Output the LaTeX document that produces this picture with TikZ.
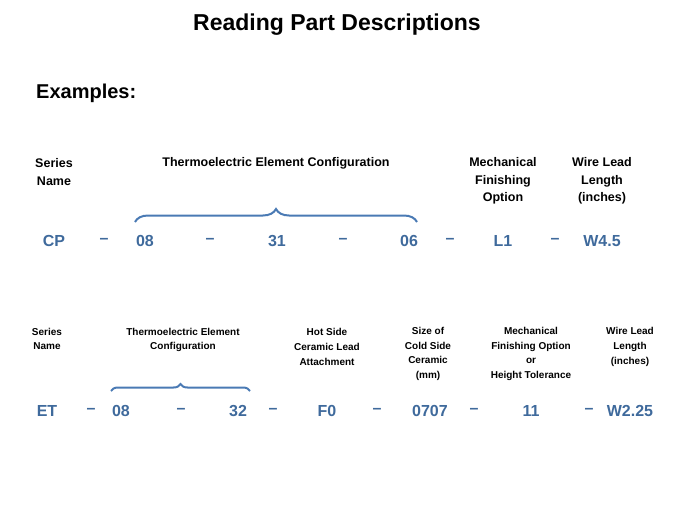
\documentclass[tikz,border=0pt]{standalone}
\usepackage{fontspec}
\setmainfont{Liberation Sans}
\usetikzlibrary{decorations.pathreplacing}
\definecolor{codeblue}{HTML}{3F6A9C}
\definecolor{braceblue}{HTML}{4A7AB4}
\begin{document}
\begin{tikzpicture}[x=1pt,y=-1pt,
  lab/.style={font=\bfseries\fontsize{12.5}{17.5}\selectfont,align=center,inner sep=0},
  labs/.style={font=\bfseries\fontsize{10}{14.6}\selectfont,align=center,inner sep=0},
  code/.style={font=\bfseries\fontsize{16}{18}\selectfont,text=codeblue,inner sep=0},
  br/.style={draw=braceblue,line width=2pt,decorate,decoration={brace,amplitude=#1}}]
\useasboundingbox (0,0) rectangle (675,506);
\node[font=\bfseries\fontsize{23}{26}\selectfont] (title) at (337,25) {Reading Part Descriptions};
\node[font=\bfseries\fontsize{20}{22}\selectfont,anchor=west,inner sep=0] (ex) at (36,93) {Examples:};
% row 1
\node[lab] (a1) at (54,172) {Series\\Name};
\node[lab] (a2) at (276,163) {Thermoelectric Element Configuration};
\node[lab] (a3) at (503,181) {Mechanical\\Finishing\\Option};
\node[lab] (a4) at (602,181) {Wire Lead\\Length\\(inches)};
\foreach \x/\t/\n in {54/CP/c1,104/\textendash/d1,145/08/c2,210/\textendash/d2,277/31/c3,343/\textendash/d3,409/06/c4,450/\textendash/d4,503/L1/c5,555/\textendash/d5,602/W4.5/c6}
  \node[code] (\n) at (\x,241) {\t};
\coordinate (b1s) at (135,222); \coordinate (b1e) at (417,222);
\draw[br=13pt] (b1s) -- (b1e);
% row 2
\node[labs] (e1) at (47,339) {Series\\Name};
\node[labs] (e2) at (183,340) {Thermoelectric Element\\Configuration};
\node[labs] (e3) at (327,347) {Hot Side\\Ceramic Lead\\Attachment};
\node[labs] (e4) at (428,354) {Size of\\Cold Side\\Ceramic\\(mm)};
\node[labs] (e5) at (531,354) {Mechanical\\Finishing Option\\or\\Height Tolerance};
\node[labs] (e6) at (630,347) {Wire Lead\\Length\\(inches)};
\foreach \x/\t/\n in {47/ET/f1,91/\textendash/g1,121/08/f2,181/\textendash/g2,238/32/f3,273/\textendash/g3,327/F0/f4,377/\textendash/g4,430/0707/f5,474/\textendash/g5,531/11/f6,589/\textendash/g6,630/W2.25/f7}
  \node[code] (\n) at (\x,411) {\t};
\coordinate (b2s) at (111,391); \coordinate (b2e) at (250,391);
\draw[br=7pt] (b2s) -- (b2e);
\end{tikzpicture}
\end{document}
